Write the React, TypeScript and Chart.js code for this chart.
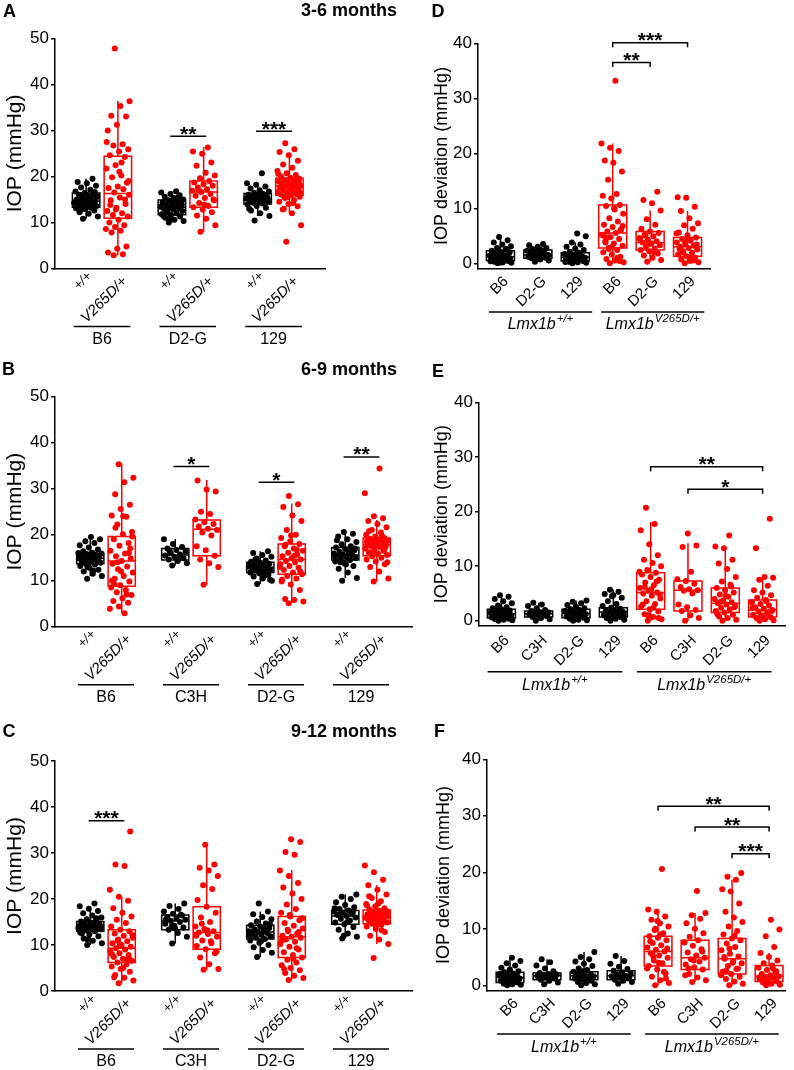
import React, { useEffect, useRef, useState } from 'react';
import { Chart, registerables } from 'chart.js';

Chart.register(...registerables);

const FONT = '"Liberation Sans", Arial, Helvetica, sans-serif';
const RED = '#ff0000';
const BLACK = '#000000';

// ---------------- Panel A : 3-6 months (IOP, mmHg) ----------------
const A_STRAINS = ['B6', 'D2-G', '129'];
const A_B6_WT = [10.8, 11.3, 11.9, 12.2, 12.6, 12.9, 13.1, 13.2, 13.4, 13.6, 13.8, 14.0, 14.1, 14.3, 14.4, 14.5, 14.6, 14.7, 14.9, 15.0, 15.2, 15.4, 15.6, 15.8, 16.0, 16.2, 16.4, 16.7, 17.1, 17.6, 18.0, 18.5, 18.8, 19.5, 13.0, 14.2, 15.1, 12.4, 16.6, 13.7];
const A_B6_MUT = [47.8, 36.3, 35.3, 33.2, 33.0, 31.2, 30.0, 27.0, 26.7, 25.9, 25.4, 24.6, 24.2, 22.4, 21.7, 20.2, 19.8, 18.6, 17.8, 17.5, 17.2, 16.5, 16.0, 15.4, 14.8, 14.0, 13.2, 12.5, 12.0, 11.6, 11.3, 10.6, 10.0, 9.4, 9.0, 8.6, 8.2, 7.8, 4.8, 4.3, 3.5, 3.1, 2.9, 19.0, 21.0, 13.8, 15.0, 12.8, 27.5, 23.0];
const A_D2G_WT = [10.0, 10.3, 10.6, 11.0, 11.3, 11.6, 11.8, 12.0, 12.3, 12.5, 12.8, 13.0, 13.1, 13.3, 13.4, 13.6, 13.8, 14.0, 14.2, 14.4, 14.6, 14.8, 15.0, 15.3, 15.6, 15.9, 16.2, 16.5, 16.8, 12.2, 13.9, 14.9, 11.4, 15.5, 10.8];
const A_D2G_MUT = [8.0, 9.4, 10.8, 11.5, 12.2, 12.8, 13.3, 13.6, 14.2, 14.8, 15.3, 15.8, 16.2, 16.6, 16.9, 17.2, 17.6, 18.0, 18.3, 18.7, 19.0, 19.6, 20.2, 20.8, 22.3, 23.0, 24.9, 25.4, 26.3, 17.0, 15.0, 13.9];
const A_129_WT = [10.4, 11.4, 12.0, 12.6, 13.2, 13.6, 13.9, 14.1, 14.3, 14.5, 14.7, 14.9, 15.0, 15.1, 15.2, 15.4, 15.5, 15.7, 15.9, 16.0, 16.2, 16.4, 16.7, 17.0, 17.4, 17.8, 18.2, 18.5, 20.7, 14.6, 15.3, 16.1, 13.0, 14.8];
const A_129_MUT = [5.8, 9.4, 12.0, 12.8, 13.5, 14.0, 14.5, 14.9, 15.3, 15.6, 15.8, 16.0, 16.2, 16.4, 16.6, 16.8, 17.0, 17.2, 17.4, 17.6, 17.8, 17.9, 18.0, 18.1, 18.3, 18.5, 18.7, 18.9, 19.1, 19.3, 19.5, 19.7, 20.0, 20.3, 20.7, 21.2, 21.9, 22.6, 23.4, 24.6, 25.3, 25.9, 27.2, 16.5, 17.5, 18.4, 19.0, 15.5, 20.5, 14.2, 13.0, 18.8];
// box stats: [lower whisker, Q1, median, Q3, upper whisker]
const A_BOX_WT = [[10.8, 13.3, 14.6, 16.4, 19.5], [10.0, 11.7, 13.3, 14.9, 16.8], [11.4, 14.0, 15.1, 16.3, 18.5]];
const A_BOX_MUT = [[2.9, 10.9, 16.3, 24.4, 36.4], [8.0, 13.3, 16.6, 19.0, 26.4], [12.0, 15.9, 18.0, 19.6, 24.5]];
const A_SIG = ['', '**', '***'];
const A_SIG_Y = [0, 28.7, 29.8];

// ---------------- Panel B : 6-9 months ----------------
const B_STRAINS = ['B6', 'C3H', 'D2-G', '129'];
const B_B6_WT = [10.4, 11.0, 11.5, 12.0, 12.4, 12.8, 13.2, 13.5, 13.7, 13.9, 14.1, 14.3, 14.5, 14.6, 14.8, 14.9, 15.0, 15.1, 15.3, 15.4, 15.6, 15.8, 15.9, 16.1, 16.4, 16.8, 17.2, 17.7, 18.2, 18.6, 19.0, 19.5, 14.0, 15.2, 13.0, 16.0, 12.2, 14.7];
const B_B6_MUT = [35.3, 32.4, 31.4, 28.8, 26.5, 25.6, 24.2, 23.9, 22.2, 20.6, 20.1, 19.0, 18.2, 17.6, 16.5, 15.9, 15.3, 14.8, 14.3, 13.7, 13.1, 12.5, 11.8, 11.0, 10.4, 9.8, 9.0, 8.5, 8.0, 7.5, 6.9, 6.2, 5.6, 5.2, 4.4, 3.9, 2.9, 21.5, 17.0, 12.0, 10.0, 7.0, 14.0, 19.6, 24.0, 9.3, 16.0];
const B_C3H_WT = [13.3, 13.8, 14.3, 14.6, 14.9, 15.2, 15.5, 15.7, 16.0, 16.3, 16.7, 17.0, 17.3, 18.0, 19.0, 14.8, 16.5];
const B_C3H_MUT = [9.1, 13.0, 13.8, 14.6, 15.4, 16.6, 17.5, 19.8, 20.5, 21.0, 21.3, 21.8, 22.3, 22.7, 23.3, 24.5, 25.0, 29.4, 29.8, 31.8];
const B_D2G_WT = [9.3, 10.0, 10.5, 10.9, 11.3, 11.6, 11.8, 12.0, 12.2, 12.4, 12.6, 12.8, 12.9, 13.0, 13.1, 13.3, 13.5, 13.7, 13.9, 14.1, 14.4, 14.8, 15.2, 15.6, 16.0, 16.4, 12.5, 13.4, 11.1, 14.6, 10.2, 12.7];
const B_D2G_MUT = [5.1, 5.5, 5.8, 6.0, 8.0, 9.2, 9.8, 10.5, 11.0, 11.4, 11.8, 12.3, 12.8, 13.2, 13.6, 14.0, 14.3, 14.6, 14.9, 15.3, 15.7, 16.1, 16.5, 17.0, 17.5, 18.0, 18.6, 19.3, 20.0, 21.0, 23.0, 24.2, 26.0, 26.6, 28.4, 13.0, 15.5, 17.8, 12.0, 19.8, 10.2, 16.8];
const B_129_WT = [10.0, 10.6, 11.8, 12.6, 13.2, 13.8, 14.2, 14.5, 14.8, 15.0, 15.2, 15.4, 15.6, 15.7, 15.9, 16.1, 16.3, 16.6, 16.9, 17.2, 17.5, 17.9, 18.4, 19.0, 19.6, 20.2, 20.6, 15.3, 16.4, 14.0, 17.0, 13.5, 18.8, 16.0];
const B_129_MUT = [9.8, 10.5, 12.0, 13.0, 13.6, 14.2, 14.6, 15.0, 15.3, 15.6, 15.9, 16.2, 16.5, 16.8, 17.0, 17.3, 17.5, 17.7, 17.9, 18.1, 18.3, 18.5, 18.7, 18.9, 19.1, 19.3, 19.6, 20.0, 20.5, 21.0, 21.6, 22.3, 23.0, 23.6, 24.0, 29.0, 34.4, 16.0, 17.2, 18.0, 18.6, 19.8, 15.7, 14.0, 17.6, 20.8, 16.6, 19.0];
const B_BOX_WT = [[11.0, 13.7, 14.9, 15.9, 19.0], [13.3, 14.5, 15.6, 17.0, 19.0], [9.3, 11.8, 12.9, 14.0, 16.4], [10.6, 14.5, 15.6, 17.2, 20.6]];
const B_BOX_MUT = [[2.9, 8.8, 14.3, 19.6, 35.5], [9.1, 15.4, 21.2, 23.2, 31.9], [5.1, 11.4, 14.6, 18.0, 26.8], [9.8, 15.4, 17.8, 19.3, 23.2]];
const B_SIG = ['', '*', '*', '**'];
const B_SIG_Y = [0, 34.8, 31.4, 36.9];

// ---------------- Panel C : 9-12 months ----------------
const C_STRAINS = ['B6', 'C3H', 'D2-G', '129'];
const C_B6_WT = [10.0, 10.4, 10.9, 11.4, 11.9, 12.3, 12.7, 13.0, 13.2, 13.4, 13.6, 13.8, 13.9, 14.0, 14.1, 14.3, 14.5, 14.7, 14.9, 15.1, 15.3, 15.6, 16.0, 16.4, 16.9, 17.4, 17.9, 18.4, 19.0, 13.5, 14.2, 14.8, 12.5, 15.8, 11.2, 13.7];
const C_B6_MUT = [1.7, 2.3, 2.9, 3.5, 4.2, 4.8, 5.3, 5.8, 6.2, 6.6, 7.0, 7.4, 7.8, 8.2, 8.6, 9.0, 9.3, 9.6, 10.0, 10.4, 10.8, 11.2, 11.6, 12.0, 12.5, 13.0, 13.3, 14.0, 14.8, 15.5, 16.2, 17.0, 18.0, 19.6, 20.5, 22.0, 27.2, 27.5, 34.7, 9.8, 8.0, 6.8, 11.0, 12.2, 5.0, 3.0, 7.2, 10.2];
const C_C3H_WT = [10.3, 11.8, 12.6, 13.3, 13.8, 14.2, 14.6, 15.0, 15.2, 15.5, 15.8, 16.1, 16.4, 16.8, 17.3, 17.8, 18.5, 19.0, 13.6, 15.6, 16.6, 14.0];
const C_C3H_MUT = [4.6, 4.8, 5.8, 7.3, 8.2, 9.1, 9.8, 10.4, 11.0, 11.8, 12.4, 12.7, 13.0, 13.5, 14.0, 15.0, 16.0, 17.0, 18.3, 19.8, 22.2, 23.0, 25.0, 26.2, 26.8, 27.5, 31.8, 12.0, 10.8, 14.6, 8.6, 13.2];
const C_D2G_WT = [7.4, 8.3, 8.9, 9.5, 10.0, 10.5, 11.0, 11.3, 11.6, 11.9, 12.2, 12.4, 12.6, 12.8, 13.0, 13.2, 13.4, 13.7, 14.0, 14.3, 14.7, 15.1, 15.6, 16.1, 16.7, 17.3, 19.0, 12.0, 13.5, 11.8, 14.5, 10.8, 12.9];
const C_D2G_MUT = [2.4, 2.8, 3.3, 3.9, 4.5, 5.0, 5.6, 6.2, 6.8, 7.3, 7.8, 8.4, 9.0, 9.6, 10.2, 10.7, 11.2, 11.6, 11.8, 12.0, 12.5, 13.0, 13.6, 14.2, 14.8, 15.4, 16.2, 17.0, 17.8, 18.8, 20.0, 21.2, 22.5, 23.5, 25.0, 26.2, 29.6, 30.2, 32.4, 33.0, 11.0, 9.3, 13.3, 15.8, 7.0, 4.8, 12.8, 16.5];
const C_129_WT = [11.4, 11.8, 12.5, 13.3, 13.9, 14.5, 14.9, 15.3, 15.7, 16.0, 16.3, 16.5, 16.8, 17.0, 17.3, 17.5, 17.8, 18.2, 18.7, 19.3, 20.0, 20.5, 21.0, 15.0, 16.6, 17.2, 12.0, 18.0];
const C_129_MUT = [7.2, 10.2, 11.2, 12.0, 12.8, 13.5, 14.0, 14.4, 14.6, 14.9, 15.1, 15.3, 15.5, 15.7, 15.9, 16.0, 16.1, 16.3, 16.5, 16.7, 16.9, 17.1, 17.3, 17.5, 17.7, 18.0, 18.4, 18.9, 19.5, 20.2, 21.0, 22.0, 23.0, 24.2, 25.8, 27.3, 15.2, 16.4, 17.0, 14.2, 18.6, 13.2, 15.8, 16.2, 19.0, 20.6];
const C_BOX_WT = [[10.0, 13.0, 14.0, 15.1, 18.4], [10.3, 13.3, 15.2, 16.5, 19.0], [7.4, 11.3, 12.8, 14.3, 17.3], [11.4, 14.5, 16.3, 17.5, 21.0]];
const C_BOX_MUT = [[1.7, 6.2, 9.3, 13.3, 20.5], [4.6, 9.1, 12.7, 18.3, 32.1], [2.4, 7.3, 11.8, 16.2, 26.3], [10.2, 14.6, 16.0, 17.6, 23.0]];
const C_SIG = ['***', '', '', ''];
const C_SIG_Y = [37.0, 0, 0, 0];

// ---------------- Panel D : IOP deviation, 3-6 months ----------------
const D_STRAINS = ['B6', 'D2-G', '129'];
const D_B6_WT = [0.0, 0.1, 0.2, 0.3, 0.4, 0.5, 0.6, 0.7, 0.8, 0.9, 1.0, 1.1, 1.2, 1.3, 1.4, 1.5, 1.7, 1.9, 2.1, 2.3, 2.5, 2.8, 3.1, 3.4, 3.8, 4.2, 4.8, 0.35, 0.85, 1.6, 2.0, 0.15, 1.25, 2.6];
const D_D2G_WT = [0.3, 0.5, 0.7, 0.9, 1.0, 1.1, 1.2, 1.3, 1.4, 1.5, 1.6, 1.7, 1.9, 2.1, 2.3, 2.4, 2.6, 2.8, 3.0, 3.3, 3.5, 0.8, 1.45, 2.0, 1.15];
const D_129_WT = [0.0, 0.1, 0.2, 0.3, 0.4, 0.5, 0.6, 0.8, 0.9, 1.0, 1.1, 1.2, 1.3, 1.5, 1.7, 1.9, 2.1, 2.4, 2.7, 3.0, 3.4, 3.8, 4.9, 5.4, 0.7, 1.15, 1.6, 0.25];
const D_B6_MUT = [0.0, 0.2, 0.5, 0.8, 1.2, 1.6, 2.0, 2.4, 2.8, 3.2, 3.6, 4.0, 4.4, 4.8, 5.2, 5.5, 5.8, 6.2, 6.6, 7.0, 7.6, 8.2, 9.0, 9.8, 10.4, 10.6, 11.8, 12.3, 12.6, 15.2, 16.7, 18.3, 18.7, 20.4, 21.0, 21.8, 33.2, 4.6, 6.0, 3.0, 5.0, 1.0, 2.6, 6.8, 10.0, 3.8, 0.4];
const D_D2G_MUT = [0.3, 0.6, 1.0, 1.4, 1.8, 2.2, 2.4, 2.7, 3.0, 3.3, 3.6, 3.8, 4.0, 4.3, 4.6, 4.9, 5.2, 5.5, 5.8, 6.3, 7.0, 8.0, 9.6, 10.9, 11.5, 13.0, 3.5, 4.4, 2.0, 5.0];
const D_129_MUT = [0.0, 0.2, 0.4, 0.7, 1.0, 1.3, 1.6, 1.9, 2.2, 2.5, 2.8, 3.0, 3.2, 3.5, 3.8, 4.1, 4.4, 4.7, 5.1, 5.6, 6.3, 6.9, 7.3, 8.2, 9.5, 10.3, 11.9, 12.0, 1.1, 2.0, 3.4, 4.5, 2.6, 0.5, 3.9, 5.4];
const D_BOX_WT = [[0, 0.5, 1.2, 2.3, 4.8], [0.3, 0.9, 1.5, 2.4, 3.5], [0, 0.4, 1.1, 1.9, 3.8]];
const D_BOX_MUT = [[0, 2.8, 5.5, 10.6, 21.8], [0.3, 2.4, 3.8, 5.8, 9.6], [0, 1.3, 3.0, 4.7, 9.5]];
const D_SIG_FROM = [4, 4];
const D_SIG_TO = [6, 5];
const D_SIG_Y = [40.1, 36.5];
const D_SIG_LABEL = ['***', '**'];

// ---------------- Panel E : IOP deviation, 6-9 months ----------------
const E_STRAINS = ['B6', 'C3H', 'D2-G', '129'];
const E_B6_WT = [0.0, 0.1, 0.2, 0.3, 0.4, 0.5, 0.6, 0.7, 0.9, 1.0, 1.1, 1.2, 1.3, 1.4, 1.5, 1.6, 1.8, 1.9, 2.1, 2.3, 2.5, 2.8, 3.2, 3.6, 4.0, 4.4, 4.7, 0.8, 1.35, 2.0, 0.45];
const E_C3H_WT = [0.0, 0.3, 0.5, 0.7, 0.9, 1.1, 1.2, 1.3, 1.4, 1.5, 1.6, 1.8, 2.0, 2.3, 2.7, 3.0, 3.3, 1.0];
const E_D2G_WT = [0.0, 0.1, 0.2, 0.4, 0.55, 0.7, 0.8, 0.9, 1.0, 1.2, 1.3, 1.4, 1.5, 1.6, 1.8, 2.0, 2.1, 2.3, 2.6, 2.9, 3.2, 3.5, 3.7, 0.6, 1.1, 1.7, 0.3];
const E_129_WT = [0.0, 0.2, 0.4, 0.6, 0.7, 0.9, 1.1, 1.3, 1.5, 1.6, 1.7, 1.9, 2.1, 2.4, 2.7, 3.1, 3.6, 4.2, 4.7, 4.9, 5.3, 5.7, 1.0, 1.8, 0.5, 2.2, 4.5];
const E_B6_MUT = [0.0, 0.3, 0.7, 1.2, 1.7, 2.1, 2.6, 3.1, 3.6, 4.1, 4.6, 5.0, 5.2, 5.5, 6.0, 6.5, 7.0, 7.5, 8.0, 8.5, 8.8, 9.3, 10.0, 10.6, 11.2, 12.0, 14.0, 16.6, 17.7, 20.7, 4.8, 5.8, 3.0, 7.2, 1.0, 9.0, 2.4, 6.2, 0.5];
const E_C3H_MUT = [0.0, 0.5, 1.0, 1.8, 2.0, 2.5, 3.0, 5.0, 5.5, 5.6, 5.8, 6.2, 6.8, 7.3, 7.6, 9.0, 13.5, 13.8, 16.0];
const E_D2G_MUT = [0.0, 0.2, 0.5, 0.8, 1.1, 1.5, 1.8, 2.1, 2.4, 2.7, 3.0, 3.2, 3.4, 3.7, 4.0, 4.4, 4.8, 5.2, 5.6, 6.0, 6.6, 7.2, 8.0, 9.5, 10.5, 11.2, 13.3, 13.6, 15.6, 3.5, 2.5, 4.6, 1.2, 6.3];
const E_129_MUT = [0.0, 0.1, 0.3, 0.5, 0.7, 0.9, 1.1, 1.4, 1.7, 2.0, 2.2, 2.5, 2.8, 3.1, 3.4, 3.8, 4.2, 4.7, 5.2, 5.6, 6.4, 7.5, 7.9, 8.0, 13.3, 18.7, 1.0, 2.4, 3.6, 0.4, 1.8];
const E_BOX_WT = [[0, 0.5, 1.3, 2.1, 4.7], [0, 0.7, 1.3, 1.8, 3.3], [0, 0.55, 1.35, 2.1, 3.7], [0, 0.7, 1.6, 2.4, 5.7]];
const E_BOX_MUT = [[0, 2.1, 5.2, 8.8, 18.1], [0, 1.8, 5.6, 7.3, 14.2], [0, 1.5, 3.2, 6.0, 13.7], [0, 0.7, 2.0, 3.8, 8.0]];
const E_SIG_FROM = [5, 6];
const E_SIG_TO = [8, 8];
const E_SIG_Y = [28.2, 24.1];
const E_SIG_LABEL = ['**', '*'];

// ---------------- Panel F : IOP deviation, 9-12 months ----------------
const F_STRAINS = ['B6', 'C3H', 'D2-G', '129'];
const F_B6_WT = [0.0, 0.1, 0.2, 0.3, 0.5, 0.6, 0.8, 0.9, 1.0, 1.2, 1.3, 1.4, 1.5, 1.7, 1.9, 2.1, 2.3, 2.5, 2.8, 3.1, 3.5, 3.9, 4.3, 4.9, 0.7, 1.6, 0.4, 2.0, 1.1];
const F_C3H_WT = [0.2, 0.5, 0.8, 1.0, 1.2, 1.4, 1.6, 1.7, 1.8, 1.9, 2.0, 2.2, 2.5, 3.0, 3.5, 4.1, 4.6, 1.5];
const F_D2G_WT = [0.0, 0.2, 0.4, 0.6, 0.8, 1.0, 1.2, 1.3, 1.5, 1.6, 1.7, 1.8, 2.0, 2.2, 2.4, 2.7, 3.0, 3.4, 3.8, 4.2, 4.6, 5.0, 5.9, 1.1, 1.9, 0.9, 2.5];
const F_129_WT = [0.3, 0.6, 0.8, 1.0, 1.2, 1.4, 1.6, 1.7, 1.9, 2.1, 2.3, 2.6, 2.9, 3.3, 3.8, 4.3, 5.2, 1.5, 2.0];
const F_B6_MUT = [0.0, 0.4, 0.9, 1.5, 2.1, 2.8, 3.4, 3.9, 4.4, 4.9, 5.3, 5.7, 6.0, 6.3, 6.7, 7.1, 7.5, 8.0, 8.4, 8.7, 9.2, 9.8, 10.4, 11.0, 11.6, 12.2, 13.0, 13.4, 20.6, 5.0, 6.5, 4.0, 7.8, 2.4, 10.0, 3.0, 9.0, 5.5, 1.2, 11.4];
const F_C3H_MUT = [0.6, 0.9, 1.4, 2.0, 2.8, 3.2, 3.7, 4.2, 4.6, 4.9, 5.3, 5.8, 6.4, 7.0, 7.6, 8.0, 8.6, 9.2, 10.0, 11.0, 11.8, 12.4, 12.8, 16.7, 3.0, 6.0, 4.4, 1.8];
const F_D2G_MUT = [0.0, 0.3, 0.7, 1.1, 1.5, 2.0, 2.4, 2.9, 3.4, 3.9, 4.3, 4.7, 5.1, 5.6, 6.2, 6.8, 7.4, 8.0, 8.3, 9.0, 9.6, 10.4, 11.2, 12.0, 13.0, 14.5, 16.6, 17.0, 18.7, 19.2, 19.9, 4.0, 5.0, 3.0, 6.5, 1.8, 8.8, 2.6];
const F_129_MUT = [0.0, 0.1, 0.3, 0.5, 0.7, 0.9, 1.1, 1.3, 1.5, 1.6, 1.8, 2.0, 2.3, 2.7, 3.1, 3.5, 3.9, 4.4, 5.0, 5.7, 6.8, 8.7, 9.9, 11.6, 1.0, 2.5, 0.4, 1.4, 3.0];
const F_BOX_WT = [[0, 0.5, 1.4, 2.3, 4.9], [0.2, 1.0, 1.7, 2.2, 4.6], [0, 1.0, 1.7, 2.4, 5.9], [0.3, 1.0, 1.7, 2.6, 5.2]];
const F_BOX_MUT = [[0, 3.4, 6.0, 8.7, 13.4], [0.6, 2.8, 4.9, 8.0, 12.8], [0, 2.0, 4.7, 8.3, 18.7], [0, 0.7, 1.6, 3.5, 5.7]];
const F_SIG_FROM = [5, 6, 7];
const F_SIG_TO = [8, 8, 8];
const F_SIG_Y = [31.7, 28.0, 23.3];
const F_SIG_LABEL = ['**', '**', '***'];

const LEFT_Y_TICKS = [0, 10, 20, 30, 40, 50];
const RIGHT_Y_TICKS = [0, 10, 20, 30, 40];

// ---------------- layout helpers ----------------
interface Group { x: number; values: number[]; box: number[]; color: string; }
interface Bracket { x1: number; x2: number; y: number; label: string; hooks: boolean; }
interface GLabel { x1: number; x2: number; main: string; sup?: string; italic: boolean; }
interface TickLabel { pos: number; text: string; size: number; italic: boolean; dx: number; dy: number; }
interface PanelCfg {
  id: string;
  left: number; top: number; width: number; height: number;
  L: number; T: number; R: number; B: number;
  yMin: number; yMax: number; yTicks: number[];
  yTitle: string; yTitleSize: number; yTitleCenter: number;
  xMin: number; xMax: number;
  ticks: TickLabel[];
  groups: Group[]; boxW: number; jitW: number;
  brackets: Bracket[]; gLabels: GLabel[]; gLineDy: number; gTextDy: number;
}
interface PlacedLabel { key: string; x: number; y: number; text: string; size: number; italic: boolean; }

const DODGE = 0.185;
const jitter = (j: number) => ((j * 0.6180339887 + 0.37) % 1) - 0.5;

function leftPanel(id: string, rect: number[], area: number[], xr: number[], strains: string[],
  wt: number[][], mut: number[][], boxWt: number[][], boxMut: number[][], sig: string[], sigY: number[]): PanelCfg {
  const [left, top, width, height] = rect;
  const groups: Group[] = [];
  const ticks: TickLabel[] = [];
  const brackets: Bracket[] = [];
  const gLabels: GLabel[] = [];
  strains.forEach((s, i) => {
    const c = i + 1;
    groups.push({ x: c - DODGE, values: wt[i], box: boxWt[i], color: BLACK });
    groups.push({ x: c + DODGE, values: mut[i], box: boxMut[i], color: RED });
    ticks.push({ pos: c - DODGE, text: '+/+', size: 13, italic: true, dx: 6, dy: 8.5 });
    ticks.push({ pos: c + DODGE, text: 'V265D/+', size: 15, italic: true, dx: 10, dy: 13 });
    if (sig[i]) brackets.push({ x1: c - DODGE - 0.02, x2: c + DODGE + 0.03, y: sigY[i], label: sig[i], hooks: false });
    gLabels.push({ x1: c - 0.33, x2: c + 0.33, main: s, italic: false });
  });
  return {
    id, left, top, width, height,
    L: area[0] - left, T: area[1] - top, R: area[2] - left, B: area[3] - top,
    yMin: 0, yMax: 50, yTicks: LEFT_Y_TICKS,
    yTitle: 'IOP (mmHg)', yTitleSize: 21, yTitleCenter: 15,
    xMin: xr[0], xMax: xr[1],
    ticks, groups, boxW: 0.32, jitW: 0.14, brackets, gLabels, gLineDy: 58, gTextDy: 75,
  };
}

function rightPanel(id: string, rect: number[], area: number[], xr: number[], strains: string[],
  wt: number[][], mut: number[][], boxWt: number[][], boxMut: number[][],
  from: number[], to: number[], sy: number[], sl: string[], titleCenter: number, gl: number[]): PanelCfg {
  const [left, top, width, height] = rect;
  const n = strains.length;
  const groups: Group[] = [];
  const ticks: TickLabel[] = [];
  strains.forEach((s, i) => {
    groups.push({ x: i + 1, values: wt[i], box: boxWt[i], color: BLACK });
    ticks.push({ pos: i + 1, text: s, size: 15, italic: false, dx: 8.8, dy: gl[4] });
  });
  strains.forEach((s, i) => {
    groups.push({ x: n + i + 1, values: mut[i], box: boxMut[i], color: RED });
    ticks.push({ pos: n + i + 1, text: s, size: 15, italic: false, dx: 8.8, dy: gl[4] });
  });
  const brackets: Bracket[] = from.map((f, k) => ({ x1: f, x2: to[k], y: sy[k], label: sl[k], hooks: true }));
  const gLabels: GLabel[] = [
    { x1: 1 - gl[0], x2: n + gl[1], main: 'Lmx1b', sup: '+/+', italic: true },
    { x1: n + 1 - gl[0], x2: 2 * n + gl[1], main: 'Lmx1b', sup: 'V265D/+', italic: true },
  ];
  return {
    id, left, top, width, height,
    L: area[0] - left, T: area[1] - top, R: area[2] - left, B: area[3] - top,
    yMin: -0.95, yMax: 40, yTicks: RIGHT_Y_TICKS,
    yTitle: 'IOP deviation (mmHg)', yTitleSize: 18, yTitleCenter: titleCenter,
    xMin: xr[0], xMax: xr[1],
    ticks, groups, boxW: 0.75, jitW: 0.3, brackets, gLabels, gLineDy: gl[2], gTextDy: gl[3],
  };
}

const PANELS: PanelCfg[] = [
  leftPanel('A', [0, 0, 420, 350], [55, 38.3, 325, 268.5], [0.452, 3.6], A_STRAINS,
    [A_B6_WT, A_D2G_WT, A_129_WT], [A_B6_MUT, A_D2G_MUT, A_129_MUT], A_BOX_WT, A_BOX_MUT, A_SIG, A_SIG_Y),
  leftPanel('B', [0, 350, 420, 362], [55, 396.7, 412, 626.7], [0.4, 4.6], B_STRAINS,
    [B_B6_WT, B_C3H_WT, B_D2G_WT, B_129_WT], [B_B6_MUT, B_C3H_MUT, B_D2G_MUT, B_129_MUT], B_BOX_WT, B_BOX_MUT, B_SIG, B_SIG_Y),
  leftPanel('C', [0, 700, 420, 370], [55, 761, 412, 991], [0.4, 4.6], C_STRAINS,
    [C_B6_WT, C_C3H_WT, C_D2G_WT, C_129_WT], [C_B6_MUT, C_C3H_MUT, C_D2G_MUT, C_129_MUT], C_BOX_WT, C_BOX_MUT, C_SIG, C_SIG_Y),
  rightPanel('D', [400, 0, 394, 350], [478, 43.3, 710, 268.5], [0.4, 6.6], D_STRAINS,
    [D_B6_WT, D_D2G_WT, D_129_WT], [D_B6_MUT, D_D2G_MUT, D_129_MUT], D_BOX_WT, D_BOX_MUT,
    D_SIG_FROM, D_SIG_TO, D_SIG_Y, D_SIG_LABEL, 42.5, [0.31, 0.45, 43.5, 60, 13]),
  rightPanel('E', [400, 350, 394, 350], [479, 402.3, 785, 626], [0.4, 8.6], E_STRAINS,
    [E_B6_WT, E_C3H_WT, E_D2G_WT, E_129_WT], [E_B6_MUT, E_C3H_MUT, E_D2G_MUT, E_129_MUT], E_BOX_WT, E_BOX_MUT,
    E_SIG_FROM, E_SIG_TO, E_SIG_Y, E_SIG_LABEL, 42.5, [0.37, 0.24, 45.7, 64, 14.5]),
  rightPanel('F', [400, 700, 394, 370], [487, 759.3, 785, 990.7], [0.378, 8.43], F_STRAINS,
    [F_B6_WT, F_C3H_WT, F_D2G_WT, F_129_WT], [F_B6_MUT, F_C3H_MUT, F_D2G_MUT, F_129_MUT], F_BOX_WT, F_BOX_MUT,
    F_SIG_FROM, F_SIG_TO, F_SIG_Y, F_SIG_LABEL, 44.5, [0.35, 0.26, 43.3, 61, 13]),
];

const STAR_FONT = 21;
const STAR_DY = 4.5;

function makeOverlay(p: PanelCfg) {
  return {
    id: 'overlay' + p.id,
    afterDatasetsDraw(chart: any) {
      const ctx: CanvasRenderingContext2D = chart.ctx;
      const xs = chart.scales.x;
      const ys = chart.scales.y;
      const Y = (v: number) => ys.getPixelForValue(v);
      ctx.save();
      ctx.lineWidth = 1.5;
      for (const g of p.groups) {
        const [lo, q1, med, q3, hi] = g.box;
        const cx = xs.getPixelForValue(g.x);
        const hw = xs.getPixelForValue(g.x + p.boxW / 2) - cx;
        ctx.strokeStyle = g.color;
        ctx.beginPath();
        ctx.rect(cx - hw, Y(q3), 2 * hw, Y(q1) - Y(q3));
        ctx.moveTo(cx - hw, Y(med));
        ctx.lineTo(cx + hw, Y(med));
        ctx.moveTo(cx, Y(q3));
        ctx.lineTo(cx, Y(hi));
        ctx.moveTo(cx, Y(q1));
        ctx.lineTo(cx, Y(lo));
        ctx.stroke();
      }
      ctx.restore();
    },
    afterDraw(chart: any) {
      const ctx: CanvasRenderingContext2D = chart.ctx;
      const xs = chart.scales.x;
      const ys = chart.scales.y;
      const base = xs.top;
      ctx.save();
      ctx.strokeStyle = '#000';
      ctx.fillStyle = '#000';
      ctx.lineWidth = 1.5;
      for (const b of p.brackets) {
        const x1 = xs.getPixelForValue(b.x1);
        const x2 = xs.getPixelForValue(b.x2);
        const y = ys.getPixelForValue(b.y);
        ctx.beginPath();
        if (b.hooks) {
          ctx.moveTo(x1, y + 4.5);
          ctx.lineTo(x1, y);
          ctx.lineTo(x2, y);
          ctx.lineTo(x2, y + 4.5);
        } else {
          ctx.moveTo(x1, y);
          ctx.lineTo(x2, y);
        }
        ctx.stroke();
        ctx.font = `bold ${STAR_FONT}px ${FONT}`;
        ctx.textAlign = 'center';
        ctx.textBaseline = 'alphabetic';
        ctx.fillText(b.label, (x1 + x2) / 2, y + STAR_DY);
      }
      for (const gl of p.gLabels) {
        const x1 = xs.getPixelForValue(gl.x1);
        const x2 = xs.getPixelForValue(gl.x2);
        const yl = base + p.gLineDy;
        ctx.beginPath();
        ctx.moveTo(x1, yl);
        ctx.lineTo(x2, yl);
        ctx.stroke();
        const cx = (x1 + x2) / 2;
        const yt = base + p.gTextDy;
        const mainFont = `${gl.italic ? 'italic ' : ''}16px ${FONT}`;
        const supFont = `${gl.italic ? 'italic ' : ''}11.5px ${FONT}`;
        ctx.textBaseline = 'alphabetic';
        ctx.textAlign = 'left';
        ctx.font = mainFont;
        const wm = ctx.measureText(gl.main).width;
        let ws = 0;
        if (gl.sup) {
          ctx.font = supFont;
          ws = ctx.measureText(gl.sup).width + 1;
        }
        const x0 = cx - (wm + ws) / 2;
        ctx.font = mainFont;
        ctx.fillText(gl.main, x0, yt);
        if (gl.sup) {
          ctx.font = supFont;
          ctx.fillText(gl.sup, x0 + wm + 1, yt - 7);
        }
      }
      ctx.restore();
    },
  };
}

function buildConfig(p: PanelCfg): any {
  const datasets = p.groups.map((g) => ({
    data: g.values.map((v, j) => ({ x: g.x + jitter(j) * 2 * p.jitW, y: v })),
    backgroundColor: g.color,
    borderColor: g.color,
    borderWidth: 0,
    pointRadius: 3,
    pointHoverRadius: 3,
    clip: false,
  }));
  return {
    type: 'scatter',
    data: { datasets },
    options: {
      responsive: false,
      maintainAspectRatio: false,
      animation: false,
      devicePixelRatio: 1,
      events: [],
      layout: { padding: { left: 0, top: p.T, right: p.width - p.R, bottom: 0 } },
      plugins: { legend: { display: false }, tooltip: { enabled: false }, title: { display: false } },
      scales: {
        x: {
          type: 'linear',
          min: p.xMin,
          max: p.xMax,
          bounds: 'data',
          afterBuildTicks: (s: any) => { s.ticks = p.ticks.map((t) => ({ value: t.pos })); },
          afterFit: (s: any) => { s.height = p.height - p.B; },
          grid: { display: false, drawTicks: false },
          border: { display: true, color: '#000', width: 1.5 },
          ticks: { display: false },
        },
        y: {
          type: 'linear',
          min: p.yMin,
          max: p.yMax,
          afterBuildTicks: (s: any) => { s.ticks = p.yTicks.map((v) => ({ value: v })); },
          afterFit: (s: any) => { s.width = p.L; },
          ticks: { padding: 2, color: '#000', font: { family: FONT, size: 17 } },
          grid: { drawOnChartArea: false, drawTicks: true, tickLength: 4, color: '#000', lineWidth: 1.5 },
          border: { display: true, color: '#000', width: 1.5 },
          title: {
            display: true,
            text: p.yTitle,
            color: '#000',
            font: { family: FONT, size: p.yTitleSize },
            padding: { top: p.yTitleCenter - p.yTitleSize * 0.6, bottom: 0 },
          },
        },
      },
    },
    plugins: [makeOverlay(p)],
  };
}

const LETTERS = [
  { t: 'A', left: 3, top: 1.5 },
  { t: 'B', left: 2, top: 359.8 },
  { t: 'C', left: 2.5, top: 721.5 },
  { t: 'D', left: 431.5, top: 1.5 },
  { t: 'E', left: 432, top: 361.5 },
  { t: 'F', left: 434, top: 722 },
];
const TITLES = [
  { t: '3-6 months', top: 0.8 },
  { t: '6-9 months', top: 359.8 },
  { t: '9-12 months', top: 721.5 },
];

export default function App() {
  const refs = useRef<(HTMLCanvasElement | null)[]>([]);
  const [placed, setPlaced] = useState<PlacedLabel[]>([]);
  useEffect(() => {
    const charts = PANELS.map((p, i) => new Chart(refs.current[i] as HTMLCanvasElement, buildConfig(p)));
    // category labels: positioned from each chart's own x scale, drawn as rotated HTML text
    const out: PlacedLabel[] = [];
    charts.forEach((c: any, i) => {
      const p = PANELS[i];
      const xs = c.scales.x;
      p.ticks.forEach((t, k) => {
        out.push({
          key: `${p.id}-${k}`,
          x: p.left + xs.getPixelForValue(t.pos) + t.dx,
          y: p.top + xs.top + t.dy,
          text: t.text,
          size: t.size,
          italic: t.italic,
        });
      });
    });
    setPlaced(out);
    return () => { charts.forEach((c) => c.destroy()); };
  }, []);
  const textStyle: React.CSSProperties = {
    position: 'absolute', fontFamily: FONT, fontWeight: 'bold', fontSize: 18, lineHeight: '18px',
    color: '#000', whiteSpace: 'nowrap', margin: 0,
  };
  return (
    <div style={{ position: 'absolute', left: 0, top: 0, width: 794, height: 1070, background: '#fff', overflow: 'hidden' }}>
      {PANELS.map((p, i) => (
        <canvas
          key={p.id}
          ref={(el) => { refs.current[i] = el; }}
          width={p.width}
          height={p.height}
          style={{ position: 'absolute', left: p.left, top: p.top, width: p.width, height: p.height }}
        />
      ))}
      {placed.map((l) => (
        <div
          key={l.key}
          style={{ position: 'absolute', left: l.x, top: l.y, width: 0, height: 0, transform: 'rotate(-45deg)', transformOrigin: '0 0' }}
        >
          <span
            style={{
              position: 'absolute', right: 0, top: -0.8465 * l.size, fontFamily: FONT, fontSize: l.size,
              lineHeight: `${l.size}px`, fontStyle: l.italic ? 'italic' : 'normal', whiteSpace: 'nowrap', color: '#000',
            }}
          >
            {l.text}
          </span>
        </div>
      ))}
      {LETTERS.map((l) => (
        <div key={l.t} style={{ ...textStyle, left: l.left, top: l.top }}>{l.t}</div>
      ))}
      {TITLES.map((t) => (
        <div key={t.t} style={{ ...textStyle, left: 0, width: 397, textAlign: 'right', top: t.top }}>{t.t}</div>
      ))}
    </div>
  );
}
